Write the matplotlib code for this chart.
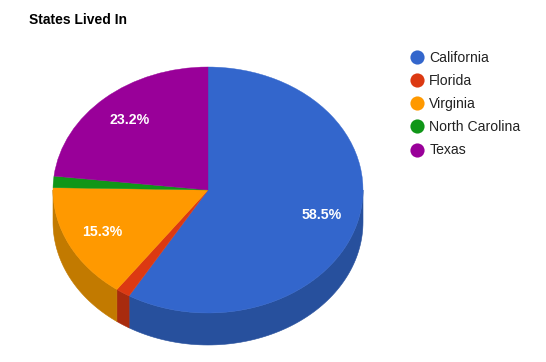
import numpy as np
import matplotlib
matplotlib.use('Agg')
from matplotlib import pyplot as plt
from matplotlib.lines import Line2D

plt.rcParams['font.family'] = ['Liberation Sans', 'DejaVu Sans']

states = ['California', 'Florida', 'Virginia', 'North Carolina', 'Texas']
shares = [58.5, 1.5, 15.3, 1.5, 23.2]
colors = ['#3366cc', '#dc3912', '#ff9900', '#109618', '#990099']
side_colors = ['#27509d', '#a82b0e', '#c27a00', '#0c7312', '#750075']

W, H = 546, 362
# pie centre and radii in pixels, the pie is squashed by the axes limits
cx, cy, rx, ry = 208, 190, 155, 123
depth = 32 / ry

fig = plt.figure(figsize=(W / 100, H / 100), dpi=100)
ax = fig.add_axes([0, 0, 1, 1])


def pct_label(p):
    return '%.1f%%' % p if p > 5 else ''


# side wall first, only the part of each slice facing the viewer
edges = np.cumsum([0] + shares) * 3.6
for i in range(len(shares)):
    a = max(edges[i], 90)
    b = min(edges[i + 1], 270)
    if a >= b:
        continue
    t = np.radians(np.linspace(a, b, 80))
    xs = np.sin(t)
    ys = np.cos(t)
    ax.fill(np.r_[xs, xs[::-1]], np.r_[ys, ys[::-1] - depth],
            color=side_colors[i], lw=0.4)

wedges, _, autotexts = ax.pie(shares, colors=colors, startangle=90, counterclock=False,
                              autopct=pct_label, pctdistance=0.76,
                              textprops={'color': 'white', 'fontsize': 10.2, 'fontweight': 'bold'})
for w, c in zip(wedges, colors):
    w.set_edgecolor(c)
    w.set_linewidth(0.3)

ax.set_aspect('auto')
ax.set_xlim(-cx / rx, (W - cx) / rx)
ax.set_ylim((cy - H) / ry, cy / ry)
ax.axis('off')

fig.text(29 / W, 1 - 20.5 / H, 'States Lived In', fontsize=10, fontweight='bold',
         color='black', va='center', ha='left')

handles = [Line2D([], [], ls='none', marker='o', ms=10.2, color=c, mew=0) for c in colors]
ax.legend(handles, states, loc='upper left', bbox_to_anchor=(410 / W, 1 - 51 / H),
          bbox_transform=fig.transFigure, frameon=False, fontsize=10.1, labelcolor='#222222',
          labelspacing=0.65, handlelength=1.0, handletextpad=0.38, borderpad=0, borderaxespad=0)

fig.savefig('out.png', dpi=100)
